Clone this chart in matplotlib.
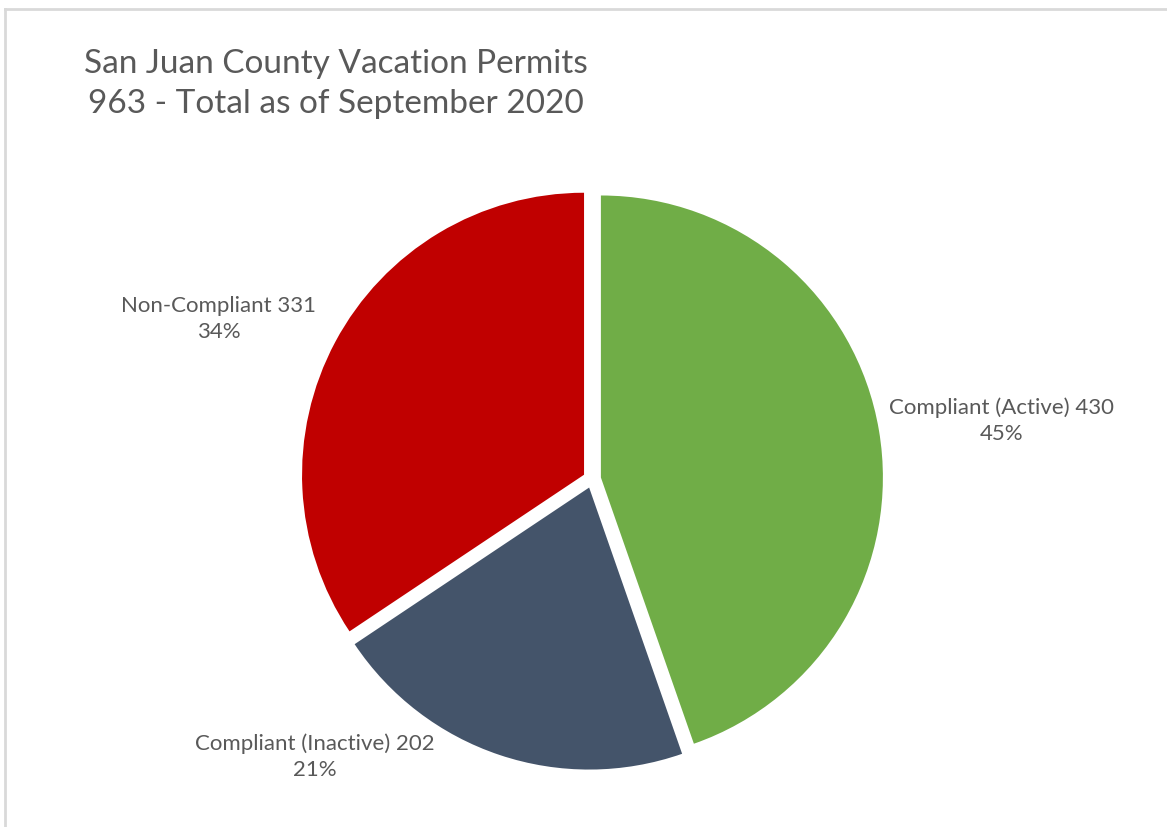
import matplotlib
matplotlib.use("Agg")
import matplotlib.pyplot as plt
from matplotlib.lines import Line2D

categories = ["Compliant (Active)", "Compliant (Inactive)", "Non-Compliant"]
values = [430, 202, 331]
colors = ["#70AD47", "#44546A", "#C00000"]
title_lines = ["San Juan County Vacation Permits", "963 - Total as of September 2020"]

W, H = 1167, 827
fig = plt.figure(figsize=(W / 100, H / 100), dpi=100)
fig.patch.set_facecolor("white")

cx, cy, R = 592, 479, 282  # pixel centre and radius of pie

ax = fig.add_axes([0, 0, 1, 1])
total = sum(values)
ax.pie(values, colors=colors, startangle=90, counterclock=False,
       explode=[0.032] * len(values), radius=1.0,
       wedgeprops=dict(linewidth=0))
ax.set_xlim(-cx / R, (W - cx) / R)
ax.set_ylim(-(H - cy) / R, cy / R)
ax.set_aspect("auto")
ax.axis("off")

def to_data(px, py):
    return (px - cx) / R, ((H - py) - (H - cy)) / R

label_pos = [(1002, 421), (315, 757), (219, 319)]
txt_color = "#595959"
for cat, v, (px, py) in zip(categories, values, label_pos):
    x, y = to_data(px, py)
    pct = round(100 * v / total)
    ax.text(x, y, f"{cat} {v}\n{pct}%", ha="center", va="center",
            fontsize=16, color=txt_color, family="Lato", linespacing=1.37)

fig.text(336 / W, 1 - 84 / H, "\n".join(title_lines), ha="center", va="center",
         fontsize=24, color=txt_color, family="Lato", linespacing=1.39)

fig.add_artist(Line2D([5 / W, 5 / W], [0, 1 - 9 / H], transform=fig.transFigure,
                      color="#D9D9D9", linewidth=2))
fig.add_artist(Line2D([5 / W, 1], [1 - 9 / H, 1 - 9 / H], transform=fig.transFigure,
                      color="#D9D9D9", linewidth=2))

fig.savefig("out.png", dpi=100, facecolor="white")
